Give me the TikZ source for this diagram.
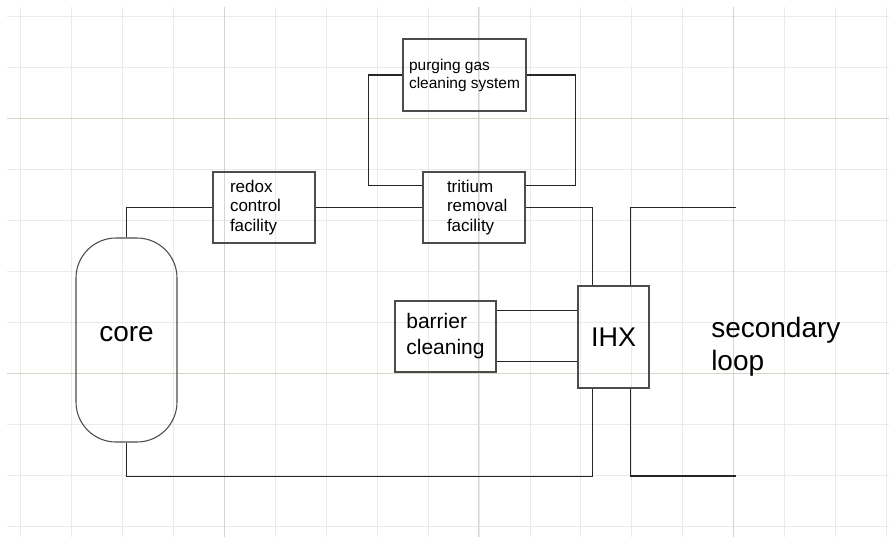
\documentclass[tikz,border=0pt]{standalone}
\usepackage{fontspec}
\setmainfont{Liberation Sans}
\usepackage{xcolor}
\usetikzlibrary{calc}

\definecolor{gridminor}{RGB}{234,234,234}
\definecolor{gridmajor}{RGB}{214,214,200}

\begin{document}
\begin{tikzpicture}[x=0.75pt, y=-0.75pt,
      gridline/.style={draw=gridminor, line width=0.6pt},
      majorline/.style={draw=gridmajor, line width=0.7pt},
      box/.style={draw=black!70, line width=0.8pt, minimum width=76.5pt,
                  minimum height=53.25pt, inner ysep=1pt,
                  font=\fontsize{12.75}{14.6}\selectfont},
      capsule/.style={draw=black!70, line width=0.8pt, rounded corners=30pt,
                  minimum width=75.75pt, minimum height=153pt,
                  font=\fontsize{21}{25}\selectfont},
      pipe/.style={draw=black!85, line width=0.9pt}
  ]

  %% ---- Sheet and grid ----
  \useasboundingbox (0,0) rectangle (889,537);
  \fill[white] (0,0) rectangle (889,537);
  \foreach \k in {0,...,10}
    \draw[gridline] (7,{16+51*\k}) -- (889,{16+51*\k});
  \foreach \k in {0,...,17}
    \draw[gridline] ({20.5+50.94*\k},7) -- ({20.5+50.94*\k},537);
  \foreach \k in {2,7}
    \draw[majorline] (7,{16+51*\k}) -- (889,{16+51*\k});
  \foreach \k in {4,9,14}
    \draw[majorline] ({20.5+50.94*\k},7) -- ({20.5+50.94*\k},537);

  %% ---- Core ----
  \node[capsule] (core) at (126.5,340) {\raisebox{9.75pt}{core}};

  %% ---- Primary loop facilities ----
  \node[box, text width=51pt, inner xsep=12.75pt, align=left] (redox)
      at (264,207.5) {redox\\control\\facility};
  \node[box, text width=40.5pt, inner xsep=18pt, align=left] (tritium)
      at (474,207.5) {tritium\\removal\\facility};
  \node[box, minimum width=92.25pt, minimum height=54pt, inner xsep=4.1pt,
        align=left, font=\fontsize{11.6}{13.5}\selectfont] (purging)
      at (464.5,75) {purging gas\\cleaning system};
  \node[box, minimum width=75.75pt, align=left,
        font=\fontsize{15.75}{19.5}\selectfont] (barrier)
      at (445.5,336.5) {barrier\\cleaning};

  %% ---- Heat exchanger and secondary side ----
  \node[box, minimum width=53.25pt, minimum height=76.5pt,
        font=\fontsize{20.25}{24}\selectfont] (ihx) at (613.5,337) {IHX};
  \node[anchor=west, align=left, inner sep=0pt,
        font=\fontsize{21}{24.75}\selectfont] (secondary)
      at (711,347) {secondary\\loop};

  %% ---- Ports ----
  \coordinate (ihxpin) at ($(ihx.north west)+(15,0)$);
  \coordinate (ihxpout) at ($(ihx.south west)+(15,0)$);
  \coordinate (ihxsin) at ($(ihx.north west)+(53,0)$);
  \coordinate (ihxsout) at ($(ihx.south west)+(53,0)$);
  \coordinate (secin) at (736,207.5);
  \coordinate (secout) at (736,476);
  \coordinate (bctop) at ($(barrier.north east)+(0,10)$);
  \coordinate (bcbot) at ($(barrier.south east)+(0,-11)$);

  %% ---- Connections ----

  % primary loop
  \draw[pipe] (core.north) |- (redox.west);
  \draw[pipe] (redox) -- (tritium);
  \draw[pipe] (tritium.east) -| (ihxpin);
  \draw[pipe] (core.south) -- ++(0,34) -| (ihxpout);

  % purging gas loop
  \draw[pipe] (purging.west) -- ++(-34,0) |- ($(tritium.north west)+(0,14)$);
  \draw[pipe] (purging.east) -- ++(49,0) |- ($(tritium.north east)+(0,14)$);

  % barrier cleaning
  \draw[pipe] (bctop) -- (bctop -| ihx.west);
  \draw[pipe] (bcbot) -- (bcbot -| ihx.west);

  % secondary loop
  \draw[pipe] (ihxsin) |- (secin);
  \draw[pipe] (ihxsout) |- (secout);

\end{tikzpicture}
\end{document}
